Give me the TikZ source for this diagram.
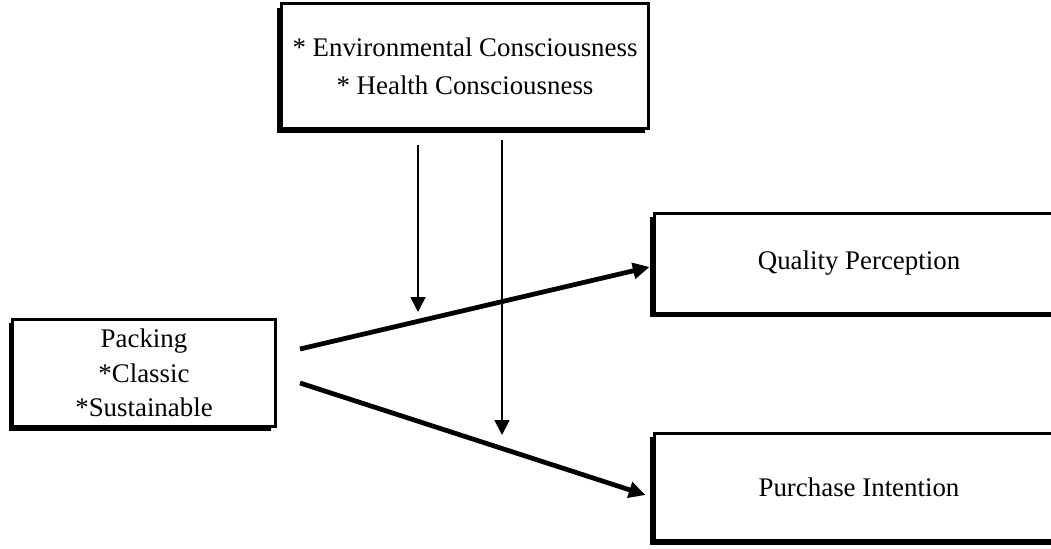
\documentclass[tikz,border=0pt]{standalone}
\usepackage{fontspec}
\setmainfont{Liberation Serif}
\usepackage{xcolor}
\usepackage{tikz}
\usetikzlibrary{arrows.meta,positioning,shadows,calc}
\definecolor{ink}{HTML}{000000}
\tikzset{
  varbox/.style={
    rectangle, draw=ink, fill=white, line width=1.7pt,
    general shadow={fill=ink, shadow xshift=-2.4pt, shadow yshift=-2.4pt},
    font=\fontsize{15.3}{#1}\selectfont, align=center,
    inner sep=2pt
  },
  varbox/.default=19.5,
  modarrow/.style={
    -{Triangle[length=8.5pt, width=8.5pt]}, line width=1.1pt, color=ink
  },
  patharrow/.style={
    -{Triangle[length=9.5pt, width=9pt]}, line width=2.7pt, color=ink
  },
}

\begin{document}
\begin{tikzpicture}[x=0.02cm, y=-0.02cm]
\useasboundingbox (0,0) rectangle (1051,548);
\node[varbox=21.5, minimum width=7.35cm, minimum height=2.5cm] (mod) at (465,66)
  {* Environmental Consciousness\\ * Health Consciousness};
\node[varbox, minimum width=5.25cm, minimum height=2.15cm] (pack) at (144,373)
  {Packing\\ *Classic\\ *Sustainable};
\node[varbox, minimum width=8.2cm, minimum height=2.0cm] (qual) at (859,263)
  {Quality Perception};
\node[varbox, minimum width=8.2cm, minimum height=2.15cm] (intent) at (859,487)
  {Purchase Intention};
% start and end points of the arrows
\coordinate (pqs) at (300,349);
\coordinate (pis) at (300,383);
\coordinate (m1s) at (418,145);
\coordinate (m1e) at (418,312);
\coordinate (m2s) at (502,140);
\coordinate (m2e) at (502,435);
\draw[patharrow] (pqs) -- ($(qual.west)+(-3,4)$);
\draw[patharrow] (pis) -- ($(intent.west)+(-7,8)$);
\draw[modarrow] (m1s) -- (m1e);
\draw[modarrow] (m2s) -- (m2e);
\end{tikzpicture}
\end{document}
